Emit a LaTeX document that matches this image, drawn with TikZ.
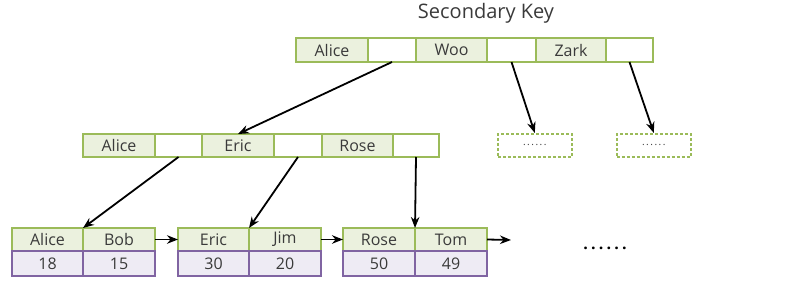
\documentclass[tikz,border=0pt]{standalone}
\usepackage{fontspec}
\setmainfont{Open Sans}
\usetikzlibrary{arrows.meta}
\definecolor{gborder}{HTML}{9BBB59}
\definecolor{gfill}{HTML}{EBF1DE}
\definecolor{pborder}{HTML}{8064A2}
\definecolor{pfill}{HTML}{EEEBF4}
\definecolor{txt}{HTML}{3A3A3A}
\tikzset{
  cellbase/.style={draw, line width=2.2pt, anchor=north west, inner sep=0pt, outer sep=0pt, text=txt, font=\fontsize{16}{16}\selectfont},
  gcell/.style={cellbase, draw=gborder, fill=gfill},
  ecell/.style={cellbase, draw=gborder, fill=white},
  pcell/.style={cellbase, draw=pborder, fill=pfill},
  dbox/.style={draw=gborder, line width=1.6pt, dash pattern=on 3pt off 2pt, anchor=north west, inner sep=0pt, minimum width=74pt, minimum height=23pt, text=txt, font=\fontsize{10}{10}\selectfont},
  arr/.style={-{Stealth[length=11pt,width=8.5pt]}, line width=1.8pt, black},
}
\begin{document}
\begin{tikzpicture}[x=1pt,y=-1pt]
\useasboundingbox (0,0) rectangle (792,292);
\node[text=txt, font=\fontsize{20}{20}\selectfont] (title) at (486,13) {Secondary Key};
% top row
\node[gcell, minimum width=72pt, minimum height=24pt] (t1) at (296,38) {Alice};
\node[ecell, minimum width=48pt, minimum height=24pt] (t2) at (368,38) {};
\node[gcell, minimum width=71pt, minimum height=24pt] (t3) at (416,38) {Woo};
\node[ecell, minimum width=49pt, minimum height=24pt] (t4) at (487,38) {};
\node[gcell, minimum width=70pt, minimum height=24pt] (t5) at (536,38) {Zark};
\node[ecell, minimum width=47pt, minimum height=24pt] (t6) at (606,38) {};
% middle row
\node[gcell, minimum width=72pt, minimum height=23pt] (m1) at (83,134) {Alice};
\node[ecell, minimum width=47pt, minimum height=23pt] (m2) at (155,134) {};
\node[gcell, minimum width=72pt, minimum height=23pt] (m3) at (202,134) {Eric};
\node[ecell, minimum width=48pt, minimum height=23pt] (m4) at (274,134) {};
\node[gcell, minimum width=71pt, minimum height=23pt] (m5) at (322,134) {Rose};
\node[ecell, minimum width=46pt, minimum height=23pt] (m6) at (393,134) {};
% dashed boxes
\node[dbox] (d1) at (497,133) {\addfontfeature{LetterSpace=15}......};
\node[dbox] (d2) at (616,133) {\addfontfeature{LetterSpace=15}......};
% leaves
\node[gcell, minimum width=71pt, minimum height=23pt] (l1a) at (12,228) {Alice};
\node[gcell, minimum width=72pt, minimum height=23pt] (l1b) at (83,228) {Bob};
\node[pcell, minimum width=71pt, minimum height=25pt] (l1c) at (12,251) {18};
\node[pcell, minimum width=72pt, minimum height=25pt] (l1d) at (83,251) {15};
\node[gcell, minimum width=71pt, minimum height=23pt] (l2a) at (178,228) {Eric};
\node[gcell, minimum width=72pt, minimum height=23pt] (l2b) at (249,228) {Jim};
\node[pcell, minimum width=71pt, minimum height=25pt] (l2c) at (178,251) {30};
\node[pcell, minimum width=72pt, minimum height=25pt] (l2d) at (249,251) {20};
\node[gcell, minimum width=72pt, minimum height=23pt] (l3a) at (343,228) {Rose};
\node[gcell, minimum width=72pt, minimum height=23pt] (l3b) at (415,228) {Tom};
\node[pcell, minimum width=72pt, minimum height=25pt] (l3c) at (343,251) {50};
\node[pcell, minimum width=72pt, minimum height=25pt] (l3d) at (415,251) {49};
\coordinate (lend) at (511,240);
\node[text=black, font=\fontsize{16}{16}\selectfont\bfseries] (dots) at (605,248) {\addfontfeature{LetterSpace=20}......};
% arrows
\draw[arr] (t2.south) -- (m3.north);
\draw[arr] (t4.south) -- (d1.north);
\draw[arr] (t6.south) -- (d2.north);
\draw[arr] (m2.south) -- (l1a.north east);
\draw[arr] (m4.south) -- (l2a.north east);
\draw[arr] (m6.south) -- (l3a.north east);
\draw[arr] (l1b.east) -- (l2a.west);
\draw[arr] (l2b.east) -- (l3a.west);
\draw[arr] (l3b.east) -- (lend);
\end{tikzpicture}
\end{document}
